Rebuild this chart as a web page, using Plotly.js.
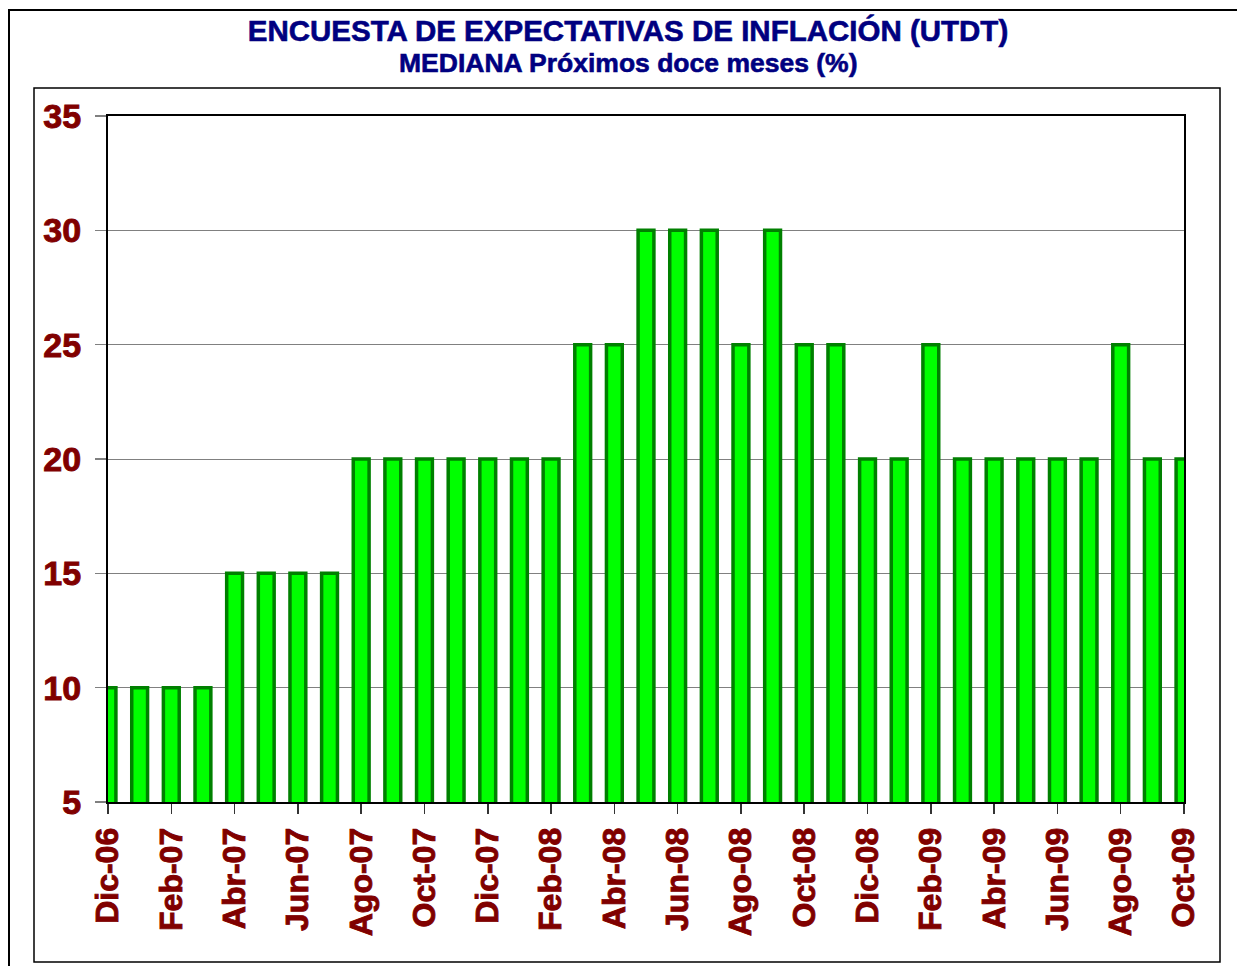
<!DOCTYPE html>
<html>
<head>
<meta charset="utf-8">
<script src="https://cdn.plot.ly/plotly-3.0.1.min.js"></script>
<style>
html,body{margin:0;padding:0;background:#fff;}
#chart{width:1237px;height:966px;}
#chart .xtick text, #chart .ytick text{stroke:#800000;stroke-width:0.9px;}
#chart .gtitle, #chart .annotation-text{stroke:#000080;stroke-width:0.6px;}
</style>
</head>
<body>
<div id="chart"></div>
<script>
const months = ["Dic-06","Ene-07","Feb-07","Mar-07","Abr-07","May-07","Jun-07","Jul-07","Ago-07","Sep-07","Oct-07","Nov-07",
  "Dic-07","Ene-08","Feb-08","Mar-08","Abr-08","May-08","Jun-08","Jul-08","Ago-08","Sep-08","Oct-08","Nov-08",
  "Dic-08","Ene-09","Feb-09","Mar-09","Abr-09","May-09","Jun-09","Jul-09","Ago-09","Sep-09","Oct-09"];
const mediana = [10,10,10,10,15,15,15,15,20,20,20,20,20,20,20,25,25,30,30,30,25,30,25,25,20,20,25,20,20,20,20,20,25,20,20];
const tickLabels = ["Dic-06","Feb-07","Abr-07","Jun-07","Ago-07","Oct-07","Dic-07","Feb-08","Abr-08","Jun-08","Ago-08","Oct-08","Dic-08","Feb-09","Abr-09","Jun-09","Ago-09","Oct-09"];
const yTicks = [5,10,15,20,25,30,35];
const titleText = "ENCUESTA DE EXPECTATIVAS DE INFLACIÓN (UTDT)";
const subtitleText = "MEDIANA Próximos doce meses (%)";

const W = 1237, H = 966;
const L = 108, R = 1184, T = 116, B = 802;
const px = v => (v - L) / (R - L);
const py = v => (B - v) / (B - T);

const trace = {
  type: 'bar',
  x: months,
  y: mediana,
  marker: {color: '#00FF00', line: {color: '#008000', width: 3.5}},
  hoverinfo: 'x+y'
};

const labelFont = {family: 'Liberation Sans, Arial, sans-serif', size: 32, color: '#800000', weight: 'bold'};

const layout = {
  width: W, height: H,
  margin: {l: L, r: W - R, t: T, b: H - B, pad: 0},
  paper_bgcolor: '#ffffff',
  plot_bgcolor: '#ffffff',
  showlegend: false,
  bargap: 0.5,
  title: {
    text: titleText,
    font: {family: 'Liberation Sans, Arial, sans-serif', size: 29.5, color: '#000080', weight: 'bold'},
    x: 628 / W, xref: 'container', xanchor: 'center',
    y: 1 - 31 / H, yref: 'container', yanchor: 'middle'
  },
  annotations: [{
    text: subtitleText, showarrow: false,
    xref: 'paper', yref: 'paper', x: px(628), y: py(63), xanchor: 'center', yanchor: 'middle',
    font: {family: 'Liberation Sans, Arial, sans-serif', size: 26.5, color: '#000080', weight: 'bold'}
  }],
  xaxis: {
    type: 'category',
    range: [0, months.length - 1],
    tickmode: 'array',
    tickvals: tickLabels,
    ticktext: tickLabels,
    tickangle: -90,
    ticks: 'outside', ticklen: 10, tickwidth: 1.5, tickcolor: '#333333',
    ticklabelstandoff: 1,
    tickfont: labelFont,
    showline: true, linecolor: '#000000', linewidth: 2, mirror: true,
    showgrid: false, zeroline: false, fixedrange: true
  },
  yaxis: {
    range: [5, 35],
    tickmode: 'array',
    tickvals: yTicks,
    ticktext: yTicks.map(String),
    ticks: 'outside', ticklen: 11, tickwidth: 1.5, tickcolor: '#808080',
    ticklabelstandoff: 7,
    tickfont: Object.assign({}, labelFont, {size: 34}),
    showline: true, linecolor: '#000000', linewidth: 2, mirror: true,
    showgrid: true, gridcolor: '#808080', gridwidth: 1,
    zeroline: false, fixedrange: true
  },
  shapes: [
    {type: 'rect', xref: 'paper', yref: 'paper', x0: px(9), x1: px(1250), y0: py(10), y1: py(980),
     line: {color: '#000000', width: 2}, fillcolor: 'rgba(0,0,0,0)', layer: 'below'},
    {type: 'rect', xref: 'paper', yref: 'paper', x0: px(34), x1: px(1220), y0: py(88), y1: py(962),
     line: {color: '#000000', width: 1.5}, fillcolor: 'rgba(0,0,0,0)', layer: 'below'}
  ]
};

Plotly.newPlot('chart', [trace], layout, {displayModeBar: false, staticPlot: true});
</script>
</body>
</html>
